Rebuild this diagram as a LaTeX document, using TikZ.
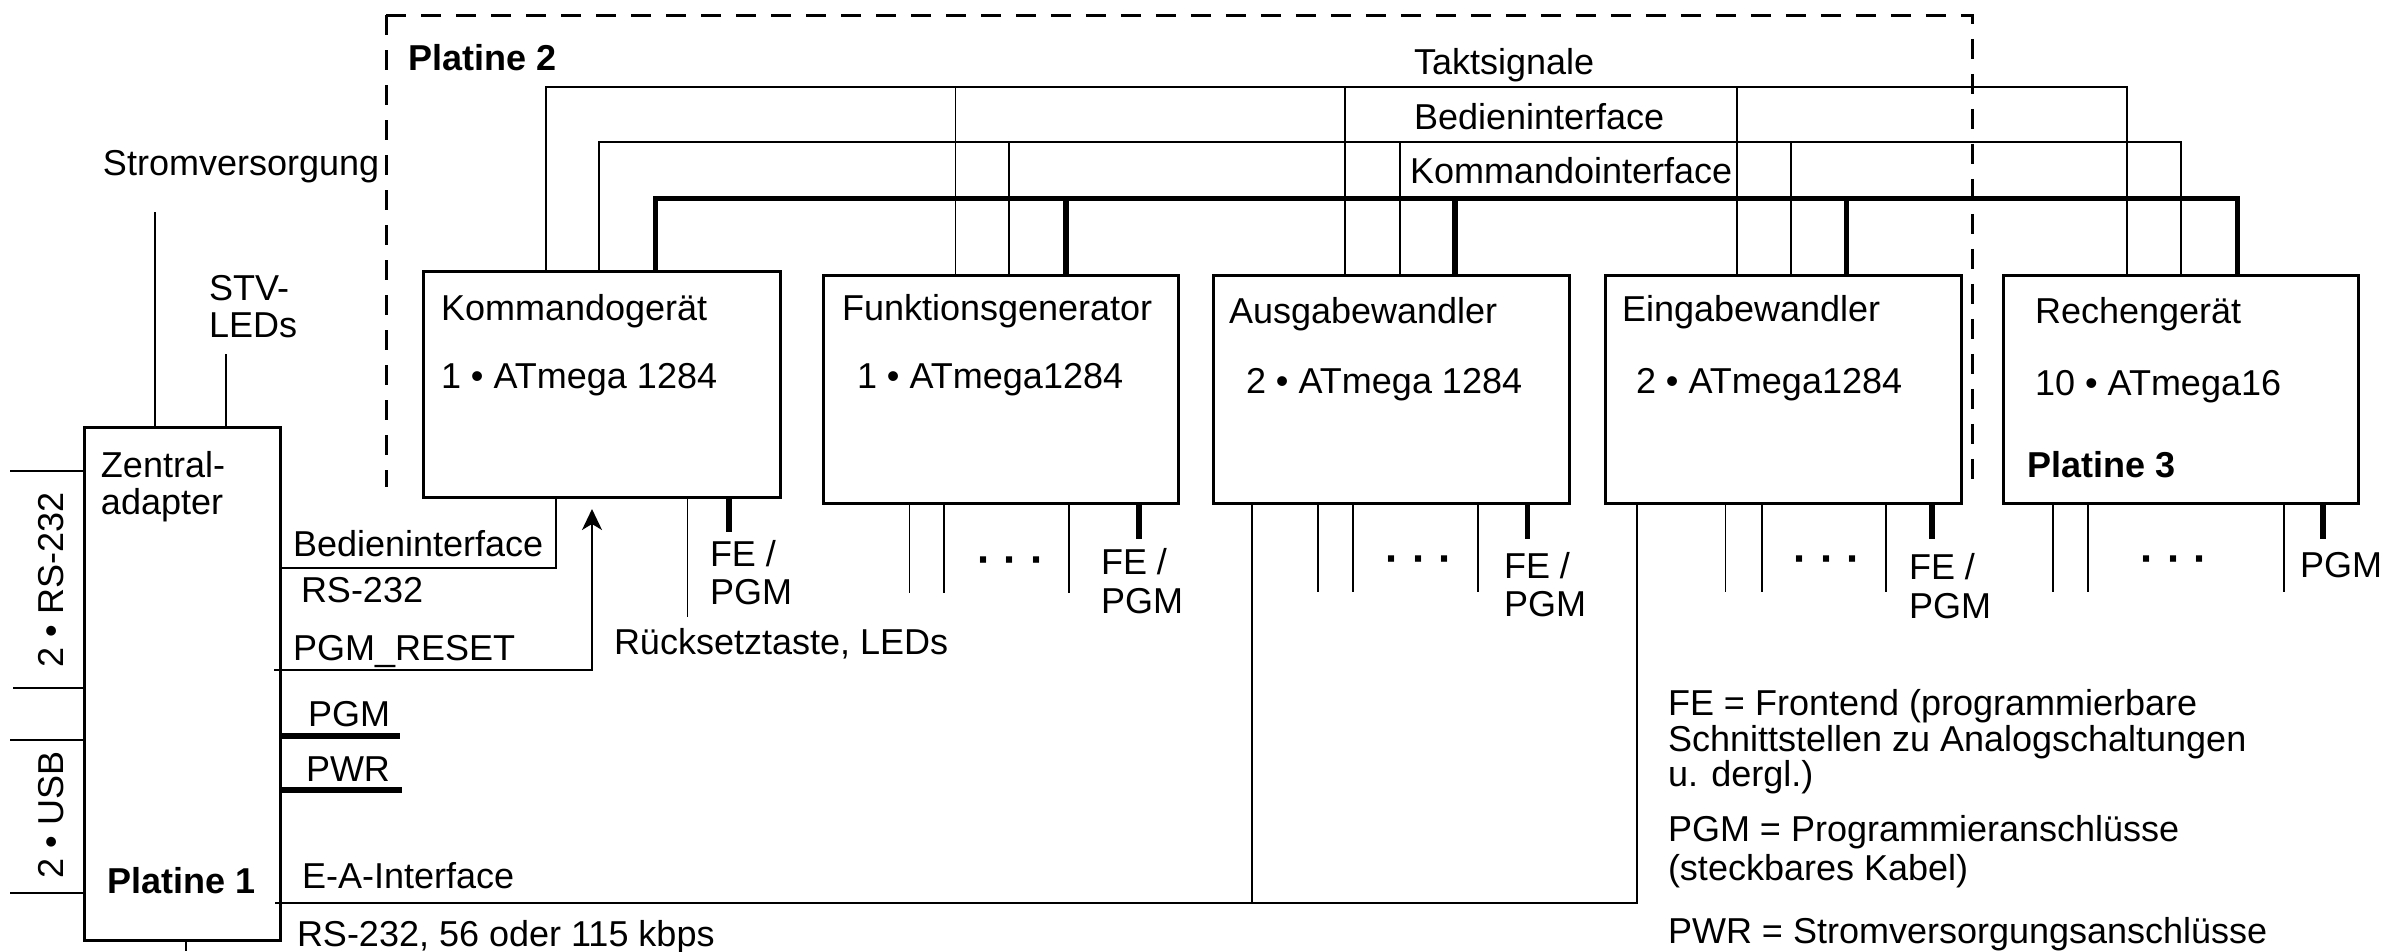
\documentclass[tikz,border=0pt]{standalone}
\usepackage{fontspec}
\setmainfont{Liberation Sans}
\usetikzlibrary{arrows.meta,calc}
\begin{document}
\begin{tikzpicture}[x=0.3pt,y=-0.3pt,
  txt/.style={anchor=base west,inner sep=0pt,outer sep=0pt,font=\fontsize{10.8pt}{11.1pt}\selectfont},
  btxt/.style={txt,font=\fontsize{10.8pt}{11.1pt}\selectfont\bfseries},
  unit/.style={draw,line width=0.9pt,inner sep=0pt,outer sep=0pt,minimum width=106.8pt,minimum height=68.4pt},
  wire/.style={line width=0.55pt},
  bus/.style={line width=1.6pt},
  pcb/.style={line width=0.9pt,dash pattern=on 6pt off 4.5pt},
  dots/.style={anchor=base,inner sep=0pt,outer sep=0pt,font=\fontsize{13pt}{13pt}\selectfont\bfseries}
]
\fill[white] (0,0) rectangle (2384,951);
\useasboundingbox (0,0) rectangle (2384,951);

% boxes
\node[unit,minimum width=58.8pt,minimum height=153.9pt] (za) at (182,683.5) {};
\node[unit,minimum width=107.1pt,minimum height=67.8pt] (kg) at (601.5,384) {};
\node[unit,minimum width=106.5pt] (fg) at (1000.5,389) {};
\node[unit] (aw) at (1391,389) {};
\node[unit] (ew) at (1783,389) {};
\node[unit,minimum width=106.5pt] (rg) at (2180.5,389) {};

% Platine 2 frame
\draw[pcb] (386,15) -- (386,487);
\draw[pcb] (386,15) -- (1972,15) -- (1972,487);

% buses
\draw[wire] (546,0 |- kg.north) -- (546,87) -- (2127,87) -- (2127,0 |- rg.north);
\foreach \x/\b in {955.5/fg,1345/aw,1737/ew} \draw[wire] (\x,87) -- (\x,0 |- \b.north);
\draw[wire] (599,0 |- kg.north) -- (599,142) -- (2181,142) -- (2181,0 |- rg.north);
\foreach \x/\b in {1009/fg,1400/aw,1791/ew} \draw[wire] (\x,142) -- (\x,0 |- \b.north);
\draw[bus] (655.5,0 |- kg.north) -- (655.5,198.5) -- (2237.5,198.5) -- (2237.5,0 |- rg.north);
\foreach \x/\b in {1066/fg,1455/aw,1846.5/ew} \draw[bus] (\x,198.5) -- (\x,0 |- \b.north);

\node[txt] (ts) at (1414,74) {Taktsignale};
\node[txt] (bi) at (1414,129) {Bedieninterface};
\node[txt] (ki) at (1410,183) {Kommandointerface};

% box labels
\node[txt] (kgt) at (441,320) {Kommandogerät};
\node[txt] (kgc) at (441,388) {1 • ATmega 1284};
\node[txt] (fgt) at (842,320) {Funktionsgenerator};
\node[txt] (fgc) at (857,388) {1 • ATmega1284};
\node[txt] (awt) at (1229,323) {Ausgabewandler};
\node[txt] (awc) at (1246,393) {2 • ATmega 1284};
\node[txt] (ewt) at (1622,321) {Eingabewandler};
\node[txt] (ewc) at (1636,393) {2 • ATmega1284};
\node[txt] (rgt) at (2035,323) {Rechengerät};
\node[txt] (rgc) at (2035,395) {10 • ATmega16};

\node[btxt] (p1) at (107,893) {Platine 1};
\node[btxt] (p2) at (408,70) {Platine 2};
\node[btxt] (p3) at (2027,477) {Platine 3};

% Zentraladapter
\node[txt] (za1) at (101,477) {Zentral-};
\node[txt] (za2) at (101,514) {adapter};

\node[txt] (sv) at (103,175) {Stromversorgung};
\coordinate (svend) at (155,212);
\draw[wire] (svend) -- (svend |- za.north);
\node[txt] (stv1) at (209,300) {STV-};
\node[txt] (stv2) at (209,337) {LEDs};
\coordinate (stvend) at (226,354);
\draw[wire] (stvend) -- (stvend |- za.north);

% left interfaces
\foreach \y in {471,740,893} \draw[wire] (za.west |- 0,\y) -- (10,\y);
\draw[wire] (za.west |- 0,688) -- (13,688);
\node[txt,anchor=center,rotate=90] (rs) at (51,580) {2 • RS-232};
\node[txt,anchor=center,rotate=90] (usb) at (51,815) {2 • USB};

% right of Zentraladapter
\node[txt] (bil) at (293,556) {Bedieninterface};
\draw[wire] (za.east |- 0,568) -- (556,568) -- (556,0 |- kg.south);
\node[txt] (rs1) at (301,602) {RS-232};
\node[txt] (pr) at (293,660) {PGM\_RESET};
\draw[wire,-{Stealth[length=6.3pt,width=6pt,inset=1.8pt]}] (za.east |- 0,670) ++(-6,0) -- (592,670) -- ($(592,0 |- kg.south)+(0,12)$);
\node[txt] (pgm) at (308,726) {PGM};
\draw[bus] (za.east |- 0,736) -- ++(120,0);
\node[txt] (pwr) at (306,781) {PWR};
\draw[bus] (za.east |- 0,790) -- ++(122,0);
\node[txt] (ea) at (302,888) {E-A-Interface};
\draw[wire] (za.east |- 0,903) ++(-5,0) -- (1637,903) -- (1637,0 |- ew.south);
\draw[wire] (1252,903) -- (1252,0 |- aw.south);
\node[txt] (rsb) at (297,946) {RS-232, 56 oder 115 kbps};
\draw[wire] (186,0 |- za.south) -- (186,951);

% below Kommandogeraet
\draw[wire] (687.5,0 |- kg.south) -- ++(0,120);
\draw[bus] (729,0 |- kg.south) -- ++(0,35);
\node[txt] (fe1) at (710,566) {FE /};
\node[txt] (pg1) at (710,604) {PGM};
\node[txt] (rt) at (614,654) {Rücksetztaste, LEDs};

% below Funktionsgenerator
\foreach \x in {909.5,944,1069} \draw[wire] (\x,0 |- fg.south) -- ++(0,90);
\draw[bus] (1139,0 |- fg.south) -- ++(0,36);
\node[dots] (d2) at (1011,574) {·\hspace{3.6pt}·\hspace{3.6pt}·};
\node[txt] (fe2) at (1101,574) {FE /};
\node[txt] (pg2) at (1101,613) {PGM};

% below Ausgabewandler
\foreach \x in {1318,1353,1478} \draw[wire] (\x,0 |- aw.south) -- ++(0,89);
\draw[bus] (1527.5,0 |- aw.south) -- ++(0,36);
\node[dots] (d3) at (1419.5,573) {·\hspace{3.6pt}·\hspace{3.6pt}·};
\node[txt] (fe3) at (1504,578) {FE /};
\node[txt] (pg3) at (1504,616) {PGM};

% below Eingabewandler
\foreach \x in {1725.5,1762,1886} \draw[wire] (\x,0 |- ew.south) -- ++(0,89);
\draw[bus] (1932,0 |- ew.south) -- ++(0,36);
\node[dots] (d4) at (1827.5,573) {·\hspace{3.6pt}·\hspace{3.6pt}·};
\node[txt] (fe4) at (1909,579) {FE /};
\node[txt] (pg4) at (1909,618) {PGM};

% below Rechengeraet
\foreach \x in {2053,2088,2284} \draw[wire] (\x,0 |- rg.south) -- ++(0,89);
\draw[bus] (2323,0 |- rg.south) -- ++(0,36);
\node[dots] (d5) at (2174.5,573) {·\hspace{3.6pt}·\hspace{3.6pt}·};
\node[txt] (pg5) at (2300,577) {PGM};

% legend
\node[txt] (l1) at (1668,715) {FE = Frontend (programmierbare};
\node[txt] (l2) at (1668,751) {Schnittstellen zu Analogschaltungen};
\node[txt] (l3) at (1668,786) {u. dergl.)};
\node[txt] (l4) at (1668,841) {PGM = Programmieranschlüsse};
\node[txt] (l5) at (1668,880) {(steckbares Kabel)};
\node[txt] (l6) at (1668,943) {PWR = Stromversorgungsanschlüsse};
\end{tikzpicture}
\end{document}
